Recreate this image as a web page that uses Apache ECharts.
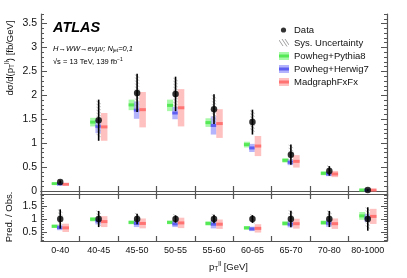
<!DOCTYPE html>
<html><head><meta charset="utf-8">
<script src="https://cdn.jsdelivr.net/npm/echarts@6/dist/echarts.min.js"></script>
<style>html,body{margin:0;padding:0;background:#fff}#c{width:407px;height:278px}</style>
</head><body><div id="c"></div>
<script>
// ---------- data ----------
const categories = ['0-40','40-45','45-50','50-55','55-60','60-65','65-70','70-80','80-1000'];
const mainTicks = [0,0.5,1,1.5,2,2.5,3,3.5];
const ratioTicks = [0.5,1,1.5];

const dataVal = [0.19,1.48,2.05,2.03,1.71,1.44,0.76,0.42,0.02];
const dataErr = [0.03,0.43,0.40,0.36,0.31,0.26,0.21,0.10,0.015];
const dataSys = [0.02,0.37,0.35,0.30,0.26,0.21,0.17,0.08,0.01];

const pythiaVal = [0.155,1.44,1.80,1.79,1.43,0.97,0.64,0.37,0.022];
const pythiaErr = [0.012,0.09,0.11,0.12,0.09,0.06,0.045,0.04,0.004];
const herwigVal = [0.145,1.35,1.69,1.63,1.37,0.90,0.60,0.355,0.02];
const herwigErr = [0.015,0.14,0.18,0.13,0.19,0.085,0.06,0.045,0.004];
const madgraphVal = [0.14,1.34,1.70,1.74,1.41,0.94,0.62,0.355,0.02];
const madgraphErr = [0.02,0.29,0.37,0.39,0.30,0.21,0.13,0.065,0.006];

const ratioDataVal = [1,1,1,1,1,1,1,1,1];
const ratioDataErr = [0.37,0.31,0.20,0.14,0.16,0.15,0.32,0.31,0.45];
const ratioDataSys = [0.30,0.26,0.17,0.12,0.13,0.12,0.27,0.26,0.38];
const ratioPythia = [0.72,0.99,0.87,0.87,0.83,0.66,0.83,0.86,1.12];
const ratioPythiaErr = [0.065,0.08,0.07,0.07,0.08,0.07,0.085,0.08,0.15];
const ratioHerwig = [0.67,0.92,0.83,0.81,0.80,0.62,0.80,0.84,1.04];
const ratioHerwigErr = [0.10,0.13,0.14,0.12,0.16,0.085,0.12,0.14,0.15];
const ratioMadgraph = [0.66,0.90,0.83,0.85,0.80,0.64,0.82,0.82,1.10];
const ratioMadgraphErr = [0.16,0.21,0.19,0.20,0.18,0.16,0.19,0.20,0.29];

// ---------- styling ----------
const FRAME = '#555';
const FONT = '"Liberation Sans", Arial, sans-serif';
const COL = {
  pythia: {light:'rgba(130,245,130,0.7)', dark:'rgba(70,230,70,0.85)'},
  herwig: {light:'rgba(140,140,250,0.65)', dark:'rgba(80,80,240,0.85)'},
  madgraph: {light:'rgba(255,150,150,0.6)', dark:'rgba(255,95,95,0.8)'}
};

function svgIcon(svg){ return 'image://data:image/svg+xml;charset=utf-8,' + encodeURIComponent(svg); }
function bandIcon(c){ return svgIcon(`<svg xmlns="http://www.w3.org/2000/svg" width="10" height="8"><rect width="10" height="8" fill="${c.light}"/><rect y="2.5" width="10" height="3" fill="${c.dark}"/></svg>`); }
const dataIcon = svgIcon('<svg xmlns="http://www.w3.org/2000/svg" width="10" height="8"><circle cx="4.5" cy="4" r="2.6" fill="#000"/></svg>');
const sysIcon = svgIcon('<svg xmlns="http://www.w3.org/2000/svg" width="10" height="8"><g stroke="#888" stroke-width="0.8"><line x1="0" y1="1" x2="4" y2="7"/><line x1="3" y1="0" x2="8" y2="7.5"/><line x1="6" y1="0" x2="10" y2="6"/></g></svg>');

function bandSeries(name, vals, errs, off, wid, c, xi, yi){
  return {
    type:'custom', name, xAxisIndex:xi, yAxisIndex:yi, z:2,
    itemStyle:{color:c.light},
    data: vals.map((v,i)=>[i,v,errs[i]]),
    encode:{x:0,y:1},
    renderItem(params, api){
      const i=api.value(0), v=api.value(1), e=api.value(2);
      const p=api.coord([i,v]);
      const w=api.size([1,0])[0];
      const yt=api.coord([i,v+e])[1], yb=api.coord([i,v-e])[1];
      const bw=wid*w, x=p[0]+off*w-bw/2;
      return {type:'group', children:[
        {type:'rect', shape:{x, y:yt, width:bw, height:Math.max(yb-yt,1.5)}, style:{fill:c.light}},
        {type:'rect', shape:{x, y:p[1]-1.5, width:bw, height:3}, style:{fill:c.dark}}
      ]};
    }
  };
}
function sysSeries(vals, sys, xi, yi){
  return {
    type:'custom', name:'Sys. Uncertainty', xAxisIndex:xi, yAxisIndex:yi, z:3,
    itemStyle:{color:'#888'},
    data: vals.map((v,i)=>[i,v,sys[i]]),
    encode:{x:0,y:1},
    renderItem(params, api){
      const i=api.value(0), v=api.value(1), s=api.value(2);
      const x=api.coord([i,v])[0];
      const yt=api.coord([i,v+s])[1], yb=api.coord([i,v-s])[1];
      const ch=[];
      for(let y=yt; y<=yb+0.01; y+=3){
        ch.push({type:'line', shape:{x1:x-2.3,y1:y-1.5,x2:x+2.3,y2:y+1.5}, style:{stroke:'#aaa', lineWidth:0.7}});
      }
      return {type:'group', children:ch};
    }
  };
}
function errSeries(vals, errs, xi, yi){
  return {
    type:'custom', name:'DataErr', xAxisIndex:xi, yAxisIndex:yi, z:4,
    data: vals.map((v,i)=>[i,v,errs[i]]),
    encode:{x:0,y:1},
    renderItem(params, api){
      const i=api.value(0), v=api.value(1), e=api.value(2);
      const x=api.coord([i,v])[0];
      const yt=api.coord([i,v+e])[1], yb=api.coord([i,v-e])[1];
      return {type:'line', shape:{x1:x,y1:yt,x2:x,y2:yb}, style:{stroke:'#000', lineWidth:1.6}};
    }
  };
}
function dotSeries(vals, xi, yi){
  return {type:'scatter', name:'Data', xAxisIndex:xi, yAxisIndex:yi, z:5,
    symbol:'circle', symbolSize:6.5, itemStyle:{color:'#000'},
    data: vals.map((v,i)=>[i,v])};
}

function minorList(min,max,step,majors){
  const out=[];
  for(let k=Math.ceil(min/step); k*step<=max+1e-9; k++){
    const v=+(k*step).toFixed(3);
    if(!majors.some(m=>Math.abs(m-v)<1e-6)) out.push(v);
  }
  return out;
}
const mainMin=-0.0627, mainMax=3.7, ratMin=0.155, ratMax=1.96;
const mainMinor=minorList(mainMin,mainMax,0.1,mainTicks);
const ratMinor=minorList(ratMin,ratMax,0.1,[0.5,1,1.5]);

function yax(gi,pos,min,max,ticks,len,labels,line){
  return {type:'value', gridIndex:gi, position:pos, min, max,
    axisLine:{show:line, lineStyle:{color:FRAME,width:1.2}},
    axisTick:{show:true, inside:true, length:len, customValues:ticks, lineStyle:{color:FRAME,width:1}},
    axisLabel:{show:labels, customValues:ticks, fontSize:10.5, color:'#111', fontFamily:FONT, margin:4},
    splitLine:{show:false}, minorTick:{show:false}};
}
function xax(gi,pos,labels){
  return {type:'category', gridIndex:gi, position:pos, data:categories, boundaryGap:true,
    axisLine:{show:true, lineStyle:{color:FRAME,width:1.2}},
    axisTick:{show:true, inside:true, length:5, alignWithLabel:false, interval:0, lineStyle:{color:FRAME,width:1.2}},
    axisLabel:{show:labels, interval:0, fontSize:9, color:'#111', fontFamily:FONT, margin:5},
    splitLine:{show:false}};
}

const chart = echarts.init(document.getElementById('c'), null, {renderer:'canvas'});
chart.setOption({
  animation:false,
  backgroundColor:'#fff',
  grid:[
    {left:41, right:20, top:14, height:180},
    {left:41, right:20, top:194, height:47}
  ],
  xAxis:[ xax(0,'bottom',false), xax(0,'top',false), xax(1,'bottom',true), xax(1,'top',false) ],
  yAxis:[
    yax(0,'left',mainMin,mainMax,mainTicks,6,true,true),
    yax(0,'left',mainMin,mainMax,mainMinor,3,false,false),
    yax(0,'right',mainMin,mainMax,mainTicks,6,false,true),
    yax(0,'right',mainMin,mainMax,mainMinor,3,false,false),
    yax(1,'left',ratMin,ratMax,ratioTicks,6,true,true),
    yax(1,'left',ratMin,ratMax,ratMinor,3,false,false),
    yax(1,'right',ratMin,ratMax,ratioTicks,6,false,true),
    yax(1,'right',ratMin,ratMax,ratMinor,3,false,false)
  ],
  legend:{
    orient:'vertical', left:274, top:20, itemWidth:10, itemHeight:8, itemGap:3,
    selectedMode:false, textStyle:{fontSize:9.5, fontFamily:FONT, color:'#111', lineHeight:10},
    data:[
      {name:'Data', icon:dataIcon},
      {name:'Sys. Uncertainty', icon:sysIcon},
      {name:'Powheg+Pythia8', icon:bandIcon(COL.pythia)},
      {name:'Powheg+Herwig7', icon:bandIcon(COL.herwig)},
      {name:'MadgraphFxFx', icon:bandIcon(COL.madgraph)}
    ]
  },
  graphic:[
    {type:'text', x:53, y:20, style:{text:'ATLAS', font:'italic bold 14.5px '+FONT, fill:'#000', verticalAlign:'top'}},
    {type:'text', x:53, y:48.5, style:{
      text:'{a|H→WW→eνμν; N}{s|jet}{a|=0,1}', verticalAlign:'middle',
      rich:{a:{fontSize:7.5, fontStyle:'italic', fontFamily:FONT, fill:'#000', lineHeight:10},
            s:{fontSize:5, fontFamily:FONT, fill:'#000', padding:[4,0,0,0]}}}},
    {type:'text', x:53, y:61.5, style:{
      text:'{a|√s = 13 TeV, 139 fb}{s|−1}', verticalAlign:'middle',
      rich:{a:{fontSize:7.5, fontFamily:FONT, fill:'#000', lineHeight:10},
            s:{fontSize:5, fontFamily:FONT, fill:'#000', padding:[0,0,4,0]}}}},
    {type:'text', x:10, y:58, rotation:Math.PI/2, style:{
      text:'{a|dσ/d(p}{s|T}{u|ll}{a|) [fb/GeV]}', align:'center', verticalAlign:'middle',
      rich:{a:{fontSize:9.5, fontFamily:FONT, fill:'#111', lineHeight:12},
            s:{fontSize:6.5, fontFamily:FONT, fill:'#111', padding:[5,0,0,0]},
            u:{fontSize:6.5, fontFamily:FONT, fill:'#111', padding:[0,0,5,0]}}}},
    {type:'text', x:9, y:217, rotation:Math.PI/2, style:{
      text:'Pred. / Obs.', align:'center', verticalAlign:'middle', font:'9.5px '+FONT, fill:'#111'}},
    {type:'text', x:248, y:267, style:{
      text:'{a|p}{s|T}{u|ll}{a| [GeV]}', align:'right', verticalAlign:'middle',
      rich:{a:{fontSize:9.5, fontFamily:FONT, fill:'#111', lineHeight:12},
            s:{fontSize:6.5, fontFamily:FONT, fill:'#111', padding:[5,0,0,0]},
            u:{fontSize:6.5, fontFamily:FONT, fill:'#111', padding:[0,0,5,0]}}}}
  ],
  series:[
    bandSeries('Powheg+Pythia8', pythiaVal, pythiaErr, -5.5/38.4, 6/38.4, COL.pythia, 0, 0),
    bandSeries('Powheg+Herwig7', herwigVal, herwigErr, -0.5/38.4, 5.5/38.4, COL.herwig, 0, 0),
    bandSeries('MadgraphFxFx', madgraphVal, madgraphErr, 5.5/38.4, 6.5/38.4, COL.madgraph, 0, 0),
    sysSeries(dataVal, dataSys, 0, 0),
    errSeries(dataVal, dataErr, 0, 0),
    dotSeries(dataVal, 0, 0),
    bandSeries('Powheg+Pythia8', ratioPythia, ratioPythiaErr, -5.5/38.4, 6/38.4, COL.pythia, 2, 4),
    bandSeries('Powheg+Herwig7', ratioHerwig, ratioHerwigErr, -0.5/38.4, 5.5/38.4, COL.herwig, 2, 4),
    bandSeries('MadgraphFxFx', ratioMadgraph, ratioMadgraphErr, 5.5/38.4, 6.5/38.4, COL.madgraph, 2, 4),
    sysSeries(ratioDataVal, ratioDataSys, 2, 4),
    errSeries(ratioDataVal, ratioDataErr, 2, 4),
    dotSeries(ratioDataVal, 2, 4)
  ]
});
</script></body></html>
